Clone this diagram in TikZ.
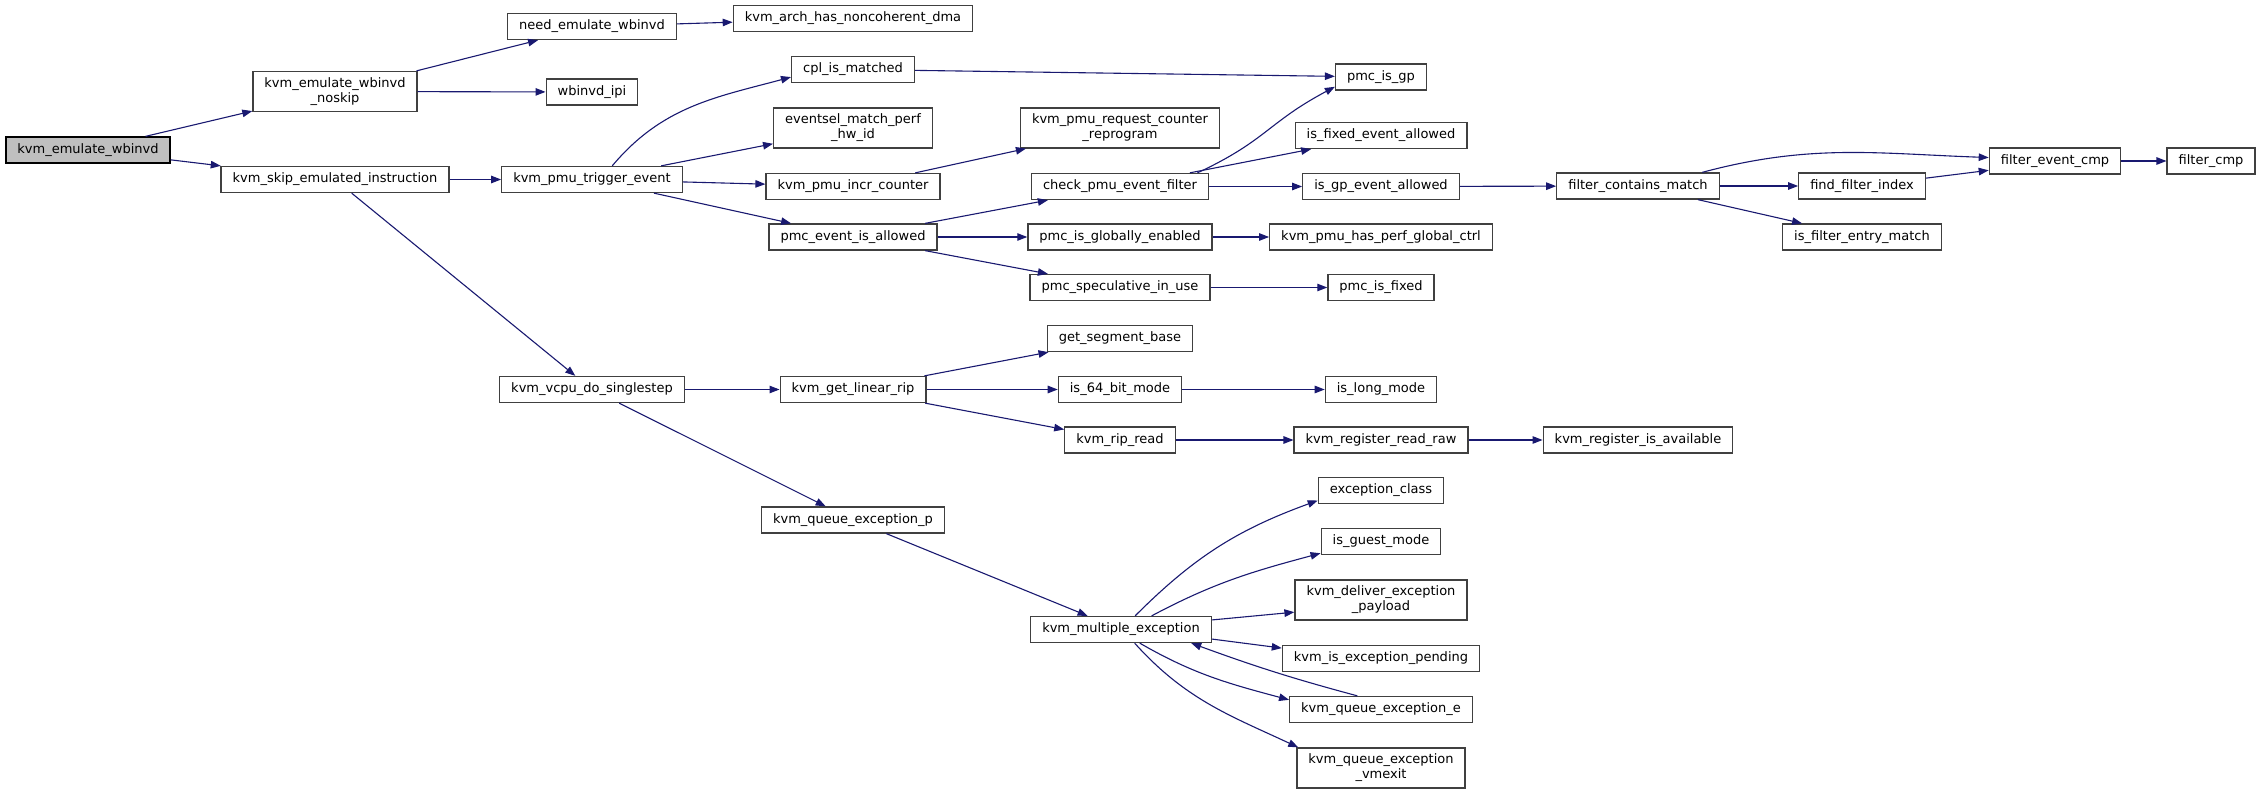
\documentclass[tikz,border=0pt]{standalone}
\usepackage{fontspec}
\setmainfont{DejaVu Sans}
\usetikzlibrary{arrows.meta}
\definecolor{edgeblue}{HTML}{191970}
\definecolor{boxgrey}{HTML}{404040}
\definecolor{rootgrey}{HTML}{BFBFBF}
\tikzstyle{arrow} = [draw=edgeblue,line width=1.1pt,-{Triangle[length=10pt,width=7.5pt]}]
\tikzset{
every node/.style={draw=boxgrey,line width=1.3pt,fill=white,align=center,font=\fontsize{13}{15}\selectfont,inner xsep=11.5pt,inner ysep=6pt,minimum height=26pt},
style1/.style= {rectangle,draw=black,fill=rootgrey},
style2/.style= {rectangle}
}
\begin{document}
\begin{tikzpicture}[x=1pt,y=1pt]
\useasboundingbox (0,0) rectangle (2260,-794);

% the function that is graphed
\node[style1] (root) at (88,-150) {kvm\_emulate\_wbinvd};

% first and second level
\node[style2] (noskip) at (335,-91.5) {kvm\_emulate\_wbinvd\\\_noskip};
\node[style2] (skip) at (335,-179.5) {kvm\_skip\_emulated\_instruction};
\node[style2] (need) at (592,-26.5) {need\_emulate\_wbinvd};
\node[style2] (wbipi) at (592,-92) {wbinvd\_ipi};
\node[style2] (trig) at (592,-179.5) {kvm\_pmu\_trigger\_event};
\node[style2] (sstep) at (592,-389.5) {kvm\_vcpu\_do\_singlestep};

% third level
\node[style2] (arch) at (853,-18.5) {kvm\_arch\_has\_noncoherent\_dma};
\node[style2] (cpl) at (853,-69.5) {cpl\_is\_matched};
\node[style2] (evsel) at (853,-128) {eventsel\_match\_perf\\\_hw\_id};
\node[style2] (incr) at (853,-186.5) {kvm\_pmu\_incr\_counter};
\node[style2] (allowed) at (853,-237) {pmc\_event\_is\_allowed};
\node[style2] (linrip) at (853,-389.5) {kvm\_get\_linear\_rip};
\node[style2] (qexcp) at (853,-520) {kvm\_queue\_exception\_p};

% fourth level
\node[style2] (reqprog) at (1120,-128) {kvm\_pmu\_request\_counter\\\_reprogram};
\node[style2] (chkfilt) at (1120,-186.5) {check\_pmu\_event\_filter};
\node[style2] (glob) at (1120,-237) {pmc\_is\_globally\_enabled};
\node[style2] (spec) at (1120,-287.5) {pmc\_speculative\_in\_use};
\node[style2] (segbase) at (1120,-338.5) {get\_segment\_base};
\node[style2] (is64) at (1120,-389.5) {is\_64\_bit\_mode};
\node[style2] (ripread) at (1120,-440) {kvm\_rip\_read};
\node[style2] (multexc) at (1121,-629.5) {kvm\_multiple\_exception};

% fifth level
\node[style2] (isgp) at (1381,-77) {pmc\_is\_gp};
\node[style2] (fixedok) at (1381,-135.5) {is\_fixed\_event\_allowed};
\node[style2] (gpok) at (1381,-186.5) {is\_gp\_event\_allowed};
\node[style2] (perfctrl) at (1381,-237) {kvm\_pmu\_has\_perf\_global\_ctrl};
\node[style2] (isfixed) at (1381,-287.5) {pmc\_is\_fixed};
\node[style2] (longmode) at (1381,-389.5) {is\_long\_mode};
\node[style2] (readraw) at (1381,-440) {kvm\_register\_read\_raw};
\node[style2] (excclass) at (1381,-490.5) {exception\_class};
\node[style2] (guest) at (1381,-541.5) {is\_guest\_mode};
\node[style2] (payload) at (1381,-600) {kvm\_deliver\_exception\\\_payload};
\node[style2] (pending) at (1381,-658.5) {kvm\_is\_exception\_pending};
\node[style2] (qexce) at (1381,-709.5) {kvm\_queue\_exception\_e};
\node[style2] (vmexit) at (1381,-768) {kvm\_queue\_exception\\\_vmexit};

% the filter helpers on the right
\node[style2] (contains) at (1638,-186) {filter\_contains\_match};
\node[style2] (avail) at (1638,-440) {kvm\_register\_is\_available};
\node[style2] (findidx) at (1862,-186) {find\_filter\_index};
\node[style2] (entry) at (1862,-237) {is\_filter\_entry\_match};
\node[style2] (evcmp) at (2055,-161) {filter\_event\_cmp};
\node[style2] (fcmp) at (2211,-161) {filter\_cmp};

% straight calls from each caller to its callees
\foreach \callee in {noskip,skip}
  \draw[arrow] (root) -- (\callee);
\foreach \callee in {need,wbipi}
  \draw[arrow] (noskip) -- (\callee);
\foreach \callee in {trig,sstep}
  \draw[arrow] (skip) -- (\callee);
\foreach \callee in {evsel,incr,allowed}
  \draw[arrow] (trig) -- (\callee);
\foreach \callee in {chkfilt,glob,spec}
  \draw[arrow] (allowed) -- (\callee);
\foreach \callee in {fixedok,gpok}
  \draw[arrow] (chkfilt) -- (\callee);
\foreach \callee in {findidx,entry}
  \draw[arrow] (contains) -- (\callee);
\foreach \callee in {linrip,qexcp}
  \draw[arrow] (sstep) -- (\callee);
\foreach \callee in {segbase,is64,ripread}
  \draw[arrow] (linrip) -- (\callee);

\draw[arrow] (need) -- (arch);
\draw[arrow] (cpl) -- (isgp);
\draw[arrow] (incr) -- (reqprog);
\draw[arrow] (gpok) -- (contains);
\draw[arrow] (glob) -- (perfctrl);
\draw[arrow] (spec) -- (isfixed);
\draw[arrow] (evcmp) -- (fcmp);
\draw[arrow] (is64) -- (longmode);
\draw[arrow] (ripread) -- (readraw);
\draw[arrow] (readraw) -- (avail);
\draw[arrow] (qexcp) -- (multexc);
\draw[arrow] (findidx.7) -- (evcmp.188);
\draw[arrow] (multexc.6) -- (payload.188);
\draw[arrow] (multexc.354) -- (pending.174);

% the bent ones
\draw[arrow] (trig.34) to[out=50,in=195] (cpl.187);
\draw[arrow] (chkfilt.10) to[out=25,in=208,looseness=1.2] (isgp.192);
\draw[arrow] (contains.12) to[out=15,in=178] (evcmp.177);
\draw[arrow] (multexc.44) to[out=45,in=200] (excclass.189);
\draw[arrow] (multexc.24) to[out=28,in=195] (guest.191);
\draw[arrow] (multexc.324) to[out=-30,in=165] (qexce.174);
\draw[arrow] (multexc.315) to[out=-48,in=155] (vmexit.166);
\draw[arrow] (qexce.150) to[out=165,in=-20] (multexc.349);

\end{tikzpicture}
\end{document}
